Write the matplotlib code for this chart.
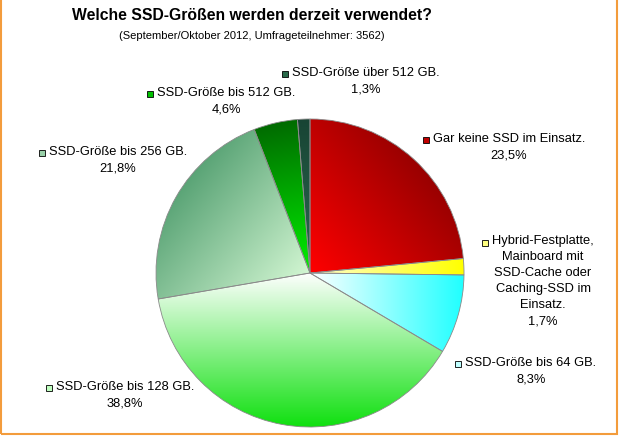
import numpy as np
import matplotlib
matplotlib.use("Agg")
import matplotlib.pyplot as plt
from matplotlib.patches import Rectangle

plt.rcParams['font.family'] = ['Liberation Sans', 'DejaVu Sans']

# data
labels = ["Gar keine SSD im Einsatz.",
          "Hybrid-Festplatte,\nMainboard mit\nSSD-Cache oder\nCaching-SSD im\nEinsatz.",
          "SSD-Größe bis 64 GB.",
          "SSD-Größe bis 128 GB.",
          "SSD-Größe bis 256 GB.",
          "SSD-Größe bis 512 GB.",
          "SSD-Größe über 512 GB."]
shares = [23.5, 1.7, 8.3, 38.8, 21.8, 4.6, 1.3]
pct_text = ["23,5%", "1,7%", "8,3%", "38,8%", "21,8%", "4,6%", "1,3%"]

# gradient styles: (start colour, end colour, direction in degrees)
grads = [("#ff0000", "#990000", 40),
         ("#ffffd0", "#ffff00", 0),
         ("#ffffff", "#20ffff", 0),
         ("#ffffff", "#10e010", -90),
         ("#5aa476", "#d2f6d2", -40),
         ("#006a00", "#00f000", -80),
         ("#184434", "#2a6a50", -90)]
box_cols = ["#c00000", "#ffff80", "#c0ffff", "#c0ffc0", "#98d0a8", "#00c000", "#2a6a4a"]

# label block centres in pixels (x, y from top)
lab_px = [(509, 147), (543, 281), (531, 371), (125, 395), (118, 160), (226, 101), (366, 81)]

W, H = 620, 436
CX, CY, R = 310, 273, 154

fig = plt.figure(figsize=(W / 100, H / 100), dpi=100)
ax = fig.add_axes([0, 0, 1, 1])

wedges, _ = ax.pie(shares, startangle=90, counterclock=False, radius=1, center=(0, 0),
                   colors=box_cols,
                   wedgeprops=dict(edgecolor="#8a8a8a", linewidth=0.6))

ax.set_xlim(-CX / R, (W - CX) / R)
ax.set_ylim((CY - H) / R, CY / R)
ax.set_aspect("equal")
ax.axis("off")

n = 300
xs = np.linspace(-1, 1, n)
XX, YY = np.meshgrid(xs, xs[::-1])
for w, (c0, c1, ang) in zip(wedges, grads):
    d = np.array([np.cos(np.radians(ang)), np.sin(np.radians(ang))])
    th = np.radians(np.linspace(w.theta1, w.theta2, 60))
    px = np.concatenate([[0], np.cos(th)])
    py = np.concatenate([[0], np.sin(th)])
    proj = px * d[0] + py * d[1]
    t = (XX * d[0] + YY * d[1] - proj.min()) / max(proj.max() - proj.min(), 1e-6)
    t = np.clip(t, 0, 1)[..., None]
    a = np.array(matplotlib.colors.to_rgb(c0))
    b = np.array(matplotlib.colors.to_rgb(c1))
    img = a * (1 - t) + b * t
    im = ax.imshow(img, extent=(-1, 1, -1, 1), interpolation="bilinear", zorder=1)
    im.set_clip_path(w)
    w.set_facecolor("none")
    w.set_zorder(2)

def to_data(x, y):
    return (x - CX) / R, (CY - y) / R

fig.text(252 / W, 1 - 15 / H, "Welche SSD-Größen werden derzeit verwendet?",
         ha="center", va="center", fontsize=11.3, fontweight="bold")
fig.text(252 / W, 1 - 36 / H, "(September/Oktober 2012, Umfrageteilnehmer: 3562)",
         ha="center", va="center", fontsize=8)

fig.canvas.draw()
renderer = fig.canvas.get_renderer()
for lab, p, (lx, ly), col in zip(labels, pct_text, lab_px, box_cols):
    x, y = to_data(lx, ly)
    txt = ax.text(x, y, lab + "\n" + p, ha="center", va="center", multialignment="center",
                  fontsize=9.3, linespacing=1.45)
    bb = txt.get_window_extent(renderer)
    nlines = (lab + "\n" + p).count("\n") + 1
    line_h = bb.height / nlines
    sx = bb.x0 - 7
    sy = bb.y1 - line_h / 2
    dx, dy = ax.transData.inverted().transform((sx, sy))
    ax.plot(dx, dy, marker="s", markersize=5, markerfacecolor=col,
            markeredgecolor="black", markeredgewidth=0.6, clip_on=False)

fig.add_artist(Rectangle((1 / W, 2.5 / H), 616 / W, 1.2, transform=fig.transFigure,
                         fill=False, edgecolor="#f39c3c", linewidth=1.5))

fig.savefig("out.png", dpi=100)
